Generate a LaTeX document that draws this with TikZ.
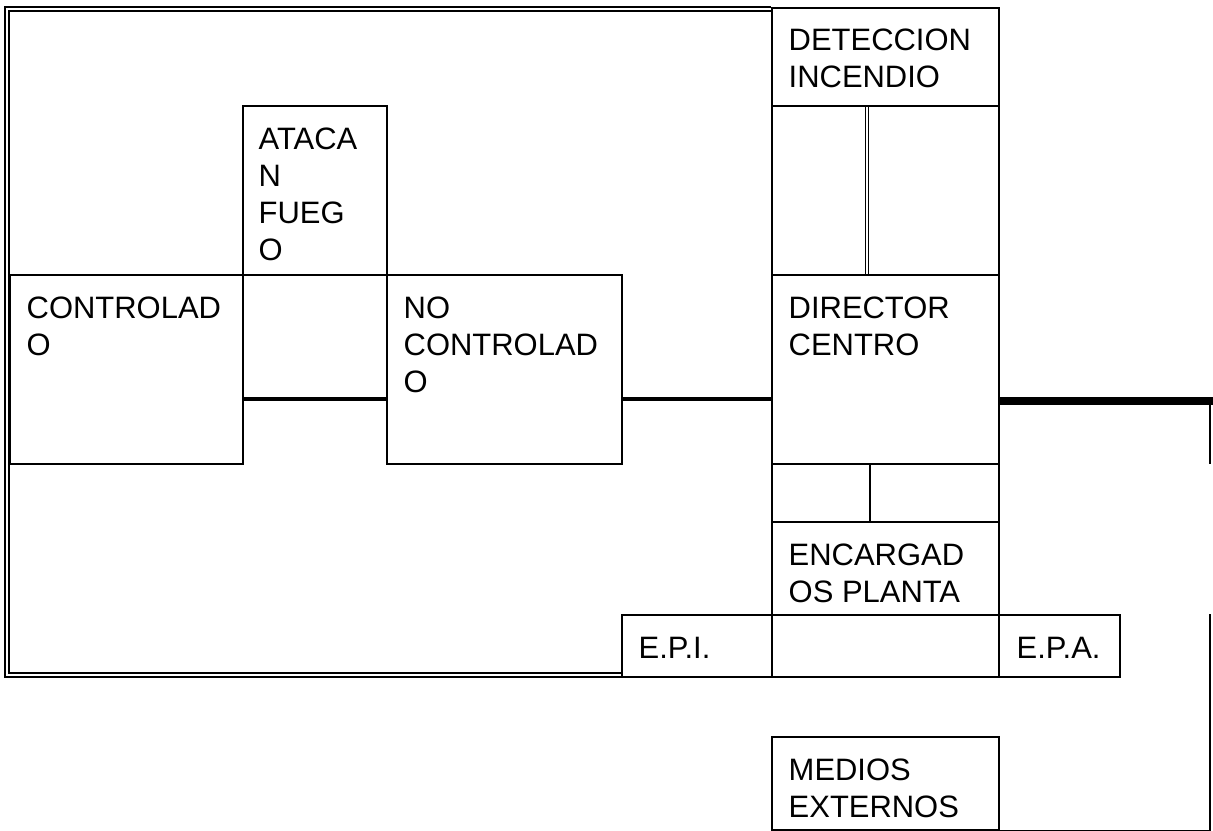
\documentclass[tikz,border=0pt]{standalone}
\usepackage{fontspec}
\setmainfont{Liberation Sans}
\usepackage{tikz}

\begin{document}
\begin{tikzpicture}[x=0.01cm, y=-0.01cm,
    cell/.style={draw, line width=0.55pt, inner sep=0pt, anchor=north west},
    lbl/.style={anchor=north west, inner sep=0pt, align=left, font=\fontsize{8.8}{10.5}\selectfont},
    link/.style={line width=0.95pt},
    heavy/.style={line width=2pt},
    thin/.style={line width=0.55pt}]
    \useasboundingbox (0,0) rectangle (1213,831);
    \node(ataca)[cell, minimum width=1.44cm, minimum height=1.69cm] at (242,105) {};
    \node(ctrl)[cell, minimum width=2.33cm, minimum height=1.89cm] at (9,274) {};
    \node(noc)[cell, minimum width=2.35cm, minimum height=1.89cm] at (386,274) {};
    \node(det)[cell, minimum width=2.27cm, minimum height=0.98cm] at (771,7) {};
    \node(gapd)[cell, minimum width=2.27cm, minimum height=1.69cm] at (771,105) {};
    \node(dir)[cell, minimum width=2.27cm, minimum height=1.89cm] at (771,274) {};
    \node(gape)[cell, minimum width=2.27cm, minimum height=0.58cm] at (771,463) {};
    \node(enc)[cell, minimum width=2.27cm, minimum height=0.93cm] at (771,521) {};
    \node(epi)[cell, minimum width=1.50cm, minimum height=0.62cm] at (621,614) {};
    \node(epm)[cell, minimum width=2.27cm, minimum height=0.62cm] at (771,614) {};
    \node(epa)[cell, minimum width=1.21cm, minimum height=0.62cm] at (998,614) {};
    \node(med)[cell, minimum width=2.27cm, minimum height=0.93cm] at (771,736) {};

    \node(tataca)[lbl] at ([shift={(16,22)}]ataca.north west) {ATACA\\N\\FUEG\\O};
    \node(tctrl)[lbl] at ([shift={(17,22)}]ctrl.north west) {CONTROLAD\\O};
    \node(tnoc)[lbl] at ([shift={(17,22)}]noc.north west) {NO\\CONTROLAD\\O};
    \node(tdet)[lbl] at ([shift={(17,21)}]det.north west) {DETECCION\\INCENDIO};
    \node(tdir)[lbl] at ([shift={(17,22)}]dir.north west) {DIRECTOR\\CENTRO};
    \node(tenc)[lbl] at ([shift={(17,22)}]enc.north west) {ENCARGAD\\OS PLANTA};
    \node(tepi)[lbl] at ([shift={(17,23)}]epi.north west) {E.P.I.};
    \node(tepa)[lbl] at ([shift={(18,23)}]epa.north west) {E.P.A.};
    \node(tmed)[lbl] at ([shift={(17,22)}]med.north west) {MEDIOS\\EXTERNOS};

    \coordinate (rowline) at (0,399);
    \coordinate (rim) at (1213,401);
    \coordinate (dline) at (867,0);
    \coordinate (sline) at (870,0);
    \coordinate (dropa) at (1210,464);
    \coordinate (dropb) at (1210,614);
    \coordinate (framea) at (7,9);
    \coordinate (frameb) at (7,675);

    \draw[double, line width=0.4pt, double distance=0.75pt] (det.west |- framea) -- (framea) -- (frameb) -- (epi.west |- frameb);
    \draw[double, line width=0.55pt, double distance=0.3pt] (det.south -| dline) -- (dir.north -| dline);
    \draw[thin] (dir.south -| sline) -- (enc.north -| sline);
    \draw[link] (ctrl.east |- rowline) -- (noc.west |- rowline);
    \draw[link] (noc.east |- rowline) -- (dir.west |- rowline);
    \draw[heavy] (dir.east |- rim) -- (rim);
    \draw[thin] (dropa |- rim) -- (dropa);
    \draw[thin] (dropb) -- (dropb |- med.south) -- (med.south east);
\end{tikzpicture}
\end{document}
